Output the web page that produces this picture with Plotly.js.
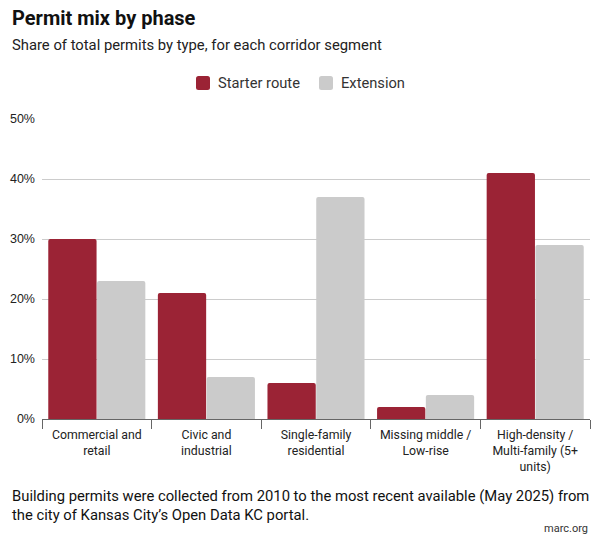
<!DOCTYPE html>
<html><head><meta charset="utf-8">
<script src="https://cdn.plot.ly/plotly-3.0.1.min.js"></script>
<style>html,body{margin:0;padding:0;background:#fff}#chart{width:600px;height:537px}</style>
</head><body><div id="chart"></div>
<script>
const categories = ["Commercial and<br>retail","Civic and<br>industrial","Single-family<br>residential","Missing middle /<br>Low-rise","High-density /<br>Multi-family (5+<br>units)"];
const seriesNames = ["Starter route", "Extension"];
const starterRoute = [30, 21, 6, 2, 41];
const extension = [23, 7, 37, 4, 29];
const yTickVals = [0, 10, 20, 30, 40, 50];
const yTickText = ["0%", "10%", "20%", "30%", "40%", "50%"];

const W = 600, H = 537, L = 42, R = 10, T = 119, B = 118;
const pw = W - L - R, ph = H - T - B;
const px = x => (x - L) / pw;
const py = y => (H - B - y) / ph;

const colors = ['#9b2335', '#cbcbcb'];
const font = "Roboto, 'Noto Sans', sans-serif";
const traces = [
  {type:'bar', name:seriesNames[0], x:categories, y:starterRoute, marker:{color:colors[0], cornerradius:2}, hoverinfo:'none'},
  {type:'bar', name:seriesNames[1], x:categories, y:extension, marker:{color:colors[1], cornerradius:2}, hoverinfo:'none'}
];

// custom legend (swatch + real text)
function roundRect(x0, y0, x1, y1, r) {
  const X0 = px(x0), X1 = px(x1), Y0 = py(y0), Y1 = py(y1);
  const rx = r / pw, ry = r / ph;
  return `M ${X0+rx} ${Y0} L ${X1-rx} ${Y0} Q ${X1} ${Y0} ${X1} ${Y0-ry} L ${X1} ${Y1+ry} Q ${X1} ${Y1} ${X1-rx} ${Y1} L ${X0+rx} ${Y1} Q ${X0} ${Y1} ${X0} ${Y1+ry} L ${X0} ${Y0-ry} Q ${X0} ${Y0} ${X0+rx} ${Y0} Z`;
}
const legendX = [196, 319];
const shapes = legendX.map((x, i) => ({type:'path', xref:'paper', yref:'paper', path:roundRect(x, 76, x + 14, 90, 2.5), fillcolor:colors[i], line:{width:0}}));
const legendAnn = legendX.map((x, i) => ({xref:'paper', yref:'paper', x:px(x + 20), y:py(83), xanchor:'left', yanchor:'middle', showarrow:false, text:seriesNames[i], font:{size:14.7, color:'#333', family:font}}));

const layout = {
  width:W, height:H, margin:{l:L, r:R, t:T, b:B},
  paper_bgcolor:'#fff', plot_bgcolor:'#fff',
  font:{family:font, color:'#222', size:12},
  barmode:'group', bargap:0.11, bargroupgap:0.01,
  showlegend:false,
  xaxis:{type:'category', tickson:'boundaries', ticks:'outside', ticklen:9, tickcolor:'#666', showline:true, linecolor:'#666', linewidth:1, showgrid:false, tickfont:{size:12.3, color:'#222'}, ticklabelstandoff:4, fixedrange:true},
  yaxis:{range:[0,50], tickvals:yTickVals, ticktext:yTickText, showgrid:true, gridcolor:'#cccccc', zeroline:false, showline:false, ticks:'', tickfont:{size:12.5, color:'#222', family:"'Liberation Sans', Arial, sans-serif"}, ticklabelstandoff:6, fixedrange:true},
  shapes: shapes,
  annotations:[
    {xref:'paper', yref:'paper', x:px(10), y:py(18), xanchor:'left', yanchor:'middle', showarrow:false, text:'<b>Permit mix by phase</b>', font:{size:20, color:'#111', family:font}},
    {xref:'paper', yref:'paper', x:px(10), y:py(45), xanchor:'left', yanchor:'middle', showarrow:false, text:'Share of total permits by type, for each corridor segment', font:{size:14.8, color:'#222', family:font}},
    {xref:'paper', yref:'paper', x:px(10), y:py(505), xanchor:'left', yanchor:'middle', showarrow:false, align:'left', text:'Building permits were collected from 2010 to the most recent available (May 2025) from<br>the city of Kansas City’s Open Data KC portal.', font:{size:14.8, color:'#111', family:font}},
    {xref:'paper', yref:'paper', x:px(590), y:py(528), xanchor:'right', yanchor:'middle', showarrow:false, text:'marc.org', font:{size:11, color:'#333', family:font}}
  ].concat(legendAnn)
};
Plotly.newPlot('chart', traces, layout, {displayModeBar:false, staticPlot:true});
</script></body></html>
